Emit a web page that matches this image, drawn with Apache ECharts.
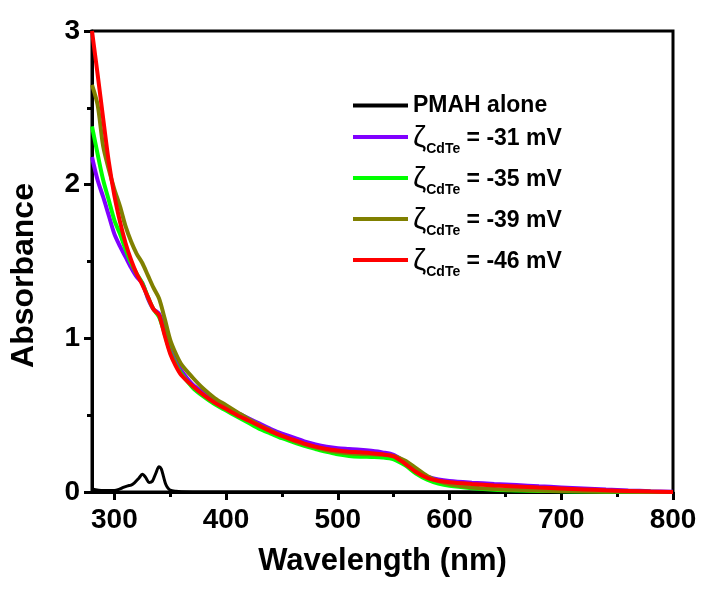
<!DOCTYPE html>
<html>
<head>
<meta charset="utf-8">
<script src="https://cdn.jsdelivr.net/npm/echarts@6/dist/echarts.min.js"></script>
<style>html,body{margin:0;padding:0;background:#fff}#c{width:702px;height:591px}</style>
</head>
<body>
<div id="c"></div>
<script>
const wl = [280,285,290,295,300,305,310,315,320,325,330,335,340,345,350,355,360,370,380,390,400,410,420,430,440,450,460,470,480,490,500,510,520,530,540,550,560,570,580,590,600,620,640,660,680,700,720,740,760,780,800];
const purple = [2.18,2.03,1.92,1.80,1.68,1.60,1.53,1.46,1.40,1.36,1.26,1.19,1.16,1.06,0.93,0.85,0.79,0.70,0.645,0.595,0.555,0.515,0.48,0.445,0.41,0.38,0.355,0.33,0.31,0.295,0.285,0.28,0.275,0.268,0.258,0.242,0.195,0.138,0.10,0.082,0.072,0.061,0.052,0.045,0.037,0.030,0.023,0.016,0.010,0.005,0.002];
const green  = [2.38,2.20,2.03,1.90,1.77,1.68,1.58,1.49,1.42,1.36,1.27,1.19,1.14,1.03,0.91,0.83,0.77,0.68,0.62,0.57,0.53,0.49,0.45,0.41,0.38,0.35,0.325,0.30,0.28,0.262,0.245,0.235,0.230,0.228,0.225,0.213,0.175,0.12,0.08,0.055,0.040,0.025,0.015,0.010,0.007,0.005,0.003,0.002,0.001,0.0,0.0];
const olive  = [2.65,2.52,2.25,2.10,1.97,1.86,1.73,1.63,1.55,1.49,1.41,1.33,1.26,1.13,0.99,0.90,0.83,0.745,0.67,0.61,0.565,0.52,0.475,0.435,0.40,0.365,0.335,0.31,0.29,0.272,0.26,0.252,0.248,0.245,0.242,0.235,0.205,0.155,0.105,0.070,0.050,0.030,0.020,0.014,0.010,0.007,0.005,0.003,0.002,0.001,0.0];
const red    = [3.00,2.72,2.43,2.15,1.93,1.76,1.62,1.51,1.42,1.35,1.27,1.19,1.15,1.02,0.90,0.82,0.76,0.69,0.63,0.58,0.54,0.50,0.465,0.43,0.395,0.365,0.34,0.315,0.295,0.28,0.27,0.262,0.258,0.252,0.245,0.232,0.185,0.13,0.092,0.073,0.063,0.052,0.043,0.036,0.029,0.023,0.017,0.011,0.007,0.003,0.0];
const pmahWl = [280,290,300,305,308,312,315,318,322,325,328,331,334,337,340,342,344,346,348,350,355,360,380,400,800];
const pmah   = [0.02,0.01,0.01,0.02,0.03,0.04,0.045,0.06,0.09,0.115,0.095,0.062,0.07,0.12,0.165,0.15,0.10,0.05,0.025,0.012,0.005,0.002,0.0,0.0,0.0];
const xMajor = [300,400,500,600,700,800];
const xMinor = [350,450,550,650,750];
const names = ['PMAH alone','ζCdTe = -31 mV','ζCdTe = -35 mV','ζCdTe = -39 mV','ζCdTe = -46 mV'];
const colors = ['#000000','#8000ff','#00ff00','#808000','#ff0000'];

const zip = (xs, ys) => xs.map((x, i) => [x, ys[i]]);
const F = 'Liberation Sans, Arial, sans-serif';
const chart = echarts.init(document.getElementById('c'));
const mk = (i, xs, ys, w) => ({
  name: names[i], type: 'line', data: zip(xs, ys), showSymbol: false, smooth: 0.3,
  lineStyle: {color: colors[i], width: w}, itemStyle: {color: colors[i]}, z: 3 + i
});
const rich = {
  p: {fontFamily: F, fontWeight: 'bold', fontSize: 23, color: '#000'},
  z: {fontFamily: F, fontWeight: 'normal', fontSize: 30, color: '#000', padding: [4, 0, 0, 0]},
  s: {fontFamily: F, fontWeight: 'bold', fontSize: 14, color: '#000', padding: [24, 0, 0, 0]},
  t: {fontFamily: F, fontWeight: 'bold', fontSize: 23, color: '#000', padding: [4, 0, 0, 0]}
};
const fmt = function (n) {
  if (n.indexOf('ζ') === 0) {
    return '{z|ζ}{s|CdTe}{t| ' + n.slice(5).trim() + '}';
  }
  return '{p|' + n + '}';
};
const legBase = {orient: 'vertical', left: 353, padding: 0, itemWidth: 55, itemHeight: 4, icon: 'rect',
  formatter: fmt, textStyle: {rich: rich}};
chart.setOption({
  animation: false,
  grid: {left: 92, right: 29, top: 31, bottom: 99, show: true, borderColor: '#000', borderWidth: 3},
  legend: [
    Object.assign({}, legBase, {top: 94, data: [names[0]]}),
    Object.assign({}, legBase, {top: 124, itemGap: 9, data: names.slice(1)})
  ],
  xAxis: [{
    type: 'value', min: 280, max: 800,
    name: 'Wavelength (nm)', nameLocation: 'middle', nameGap: 54,
    nameTextStyle: {fontFamily: F, fontWeight: 'bold', fontSize: 31, color: '#000'},
    axisLine: {show: true, lineStyle: {color: '#000', width: 3}},
    axisTick: {show: true, customValues: xMajor, length: 8, lineStyle: {color: '#000', width: 3}},
    axisLabel: {customValues: xMajor, fontFamily: F, fontWeight: 'bold', fontSize: 28, color: '#000', margin: 14},
    splitLine: {show: false}
  }, {
    type: 'value', min: 280, max: 800, position: 'bottom',
    axisLine: {show: false},
    axisTick: {show: true, customValues: xMinor, length: 5, lineStyle: {color: '#000', width: 3}},
    axisLabel: {show: false, customValues: xMinor},
    splitLine: {show: false}
  }],
  yAxis: {
    type: 'value', min: 0, max: 3, interval: 1,
    name: 'Absorbance', nameLocation: 'middle', nameGap: 52,
    nameTextStyle: {fontFamily: F, fontWeight: 'bold', fontSize: 32, color: '#000', padding: [0, 28, 0, 0]},
    axisLine: {show: true, lineStyle: {color: '#000', width: 3}},
    axisTick: {show: true, length: 8, lineStyle: {color: '#000', width: 3}},
    minorTick: {show: true, splitNumber: 2, length: 5, lineStyle: {color: '#000', width: 3}},
    axisLabel: {fontFamily: F, fontWeight: 'bold', fontSize: 28, color: '#000', margin: 12},
    splitLine: {show: false}, minorSplitLine: {show: false}
  },
  series: [
    mk(0, pmahWl, pmah, 3),
    mk(1, wl, purple, 4),
    mk(2, wl, green, 4),
    mk(3, wl, olive, 4),
    mk(4, wl, red, 4)
  ]
});
</script>
</body>
</html>
